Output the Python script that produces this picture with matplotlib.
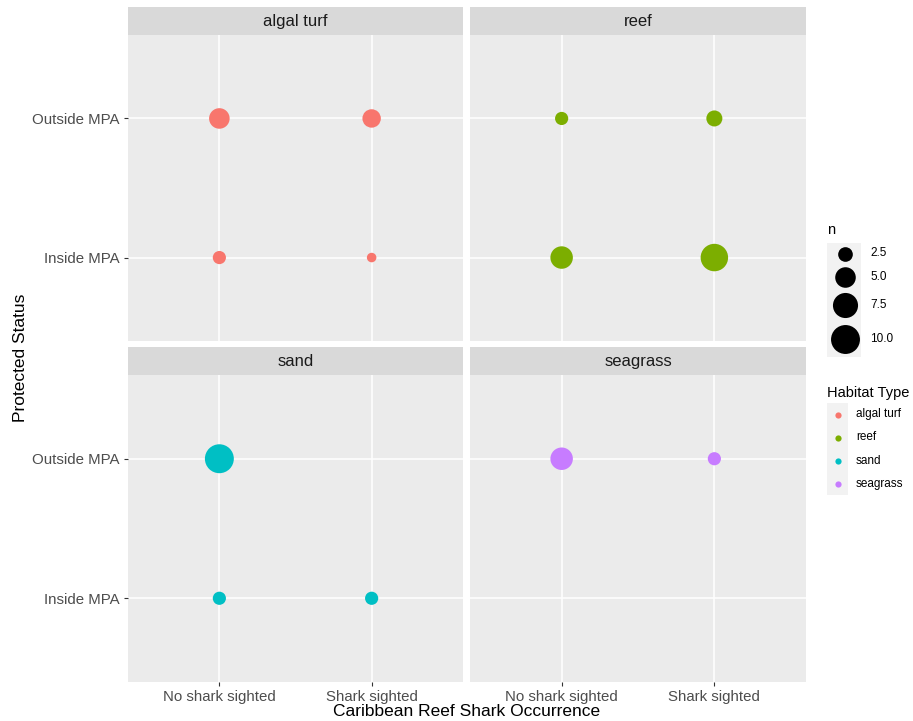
import matplotlib
matplotlib.use("Agg")
import matplotlib.pyplot as plt
from matplotlib.patches import Rectangle

plt.rcParams['font.family'] = ['Liberation Sans', 'DejaVu Sans']

habitats = ["algal turf", "reef", "sand", "seagrass"]
colors = ["#F8766D", "#7CAE00", "#00BFC4", "#C77CFF"]
occurrence = ["No shark sighted", "Shark sighted"]
status = ["Inside MPA", "Outside MPA"]

# counts per habitat: (occurrence, status, n)
algal_occ = ["No shark sighted", "Shark sighted", "No shark sighted", "Shark sighted"]
algal_stat = ["Outside MPA", "Outside MPA", "Inside MPA", "Inside MPA"]
algal_n = [5, 4, 2, 1]
reef_occ = ["No shark sighted", "Shark sighted", "No shark sighted", "Shark sighted"]
reef_stat = ["Outside MPA", "Outside MPA", "Inside MPA", "Inside MPA"]
reef_n = [2, 3, 6, 9]
sand_occ = ["No shark sighted", "No shark sighted", "Shark sighted"]
sand_stat = ["Outside MPA", "Inside MPA", "Inside MPA"]
sand_n = [10, 2, 2]
seagrass_occ = ["No shark sighted", "Shark sighted"]
seagrass_stat = ["Outside MPA", "Outside MPA"]
seagrass_n = [6, 2]

size_breaks = [2.5, 5.0, 7.5, 10.0]
size_labels = ["2.5", "5.0", "7.5", "10.0"]

data = {
    "algal turf": (algal_occ, algal_stat, algal_n),
    "reef": (reef_occ, reef_stat, reef_n),
    "sand": (sand_occ, sand_stat, sand_n),
    "seagrass": (seagrass_occ, seagrass_stat, seagrass_n),
}

def sz(n):
    return 4 + 43 * n

W, H = 913, 721
fig = plt.figure(figsize=(W / 100, H / 100), dpi=100)

def px_axes(x0, y0, x1, y1):
    return fig.add_axes([x0 / W, 1 - y1 / H, (x1 - x0) / W, (y1 - y0) / H])

cols = [(128, 463), (470, 806)]
rows = [((7, 35), (35, 341)), ((347, 375), (375, 682))]

for i, hab in enumerate(habitats):
    r, c = divmod(i, 2)
    (sy0, sy1), (py0, py1) = rows[r]
    x0, x1 = cols[c]
    ax = px_axes(x0, py0, x1, py1)
    ax.set_facecolor("#EBEBEB")
    ax.set_xlim(0.4, 2.6)
    ax.set_ylim(0.4, 2.6)
    ax.set_xticks([1, 2])
    ax.set_yticks([1, 2])
    ax.grid(True, color="white", linewidth=1.1)
    ax.set_axisbelow(True)
    for s in ax.spines.values():
        s.set_visible(False)
    occ, st, n = data[hab]
    xs = [occurrence.index(o) + 1 for o in occ]
    ys = [status.index(v) + 1 for v in st]
    ax.scatter(xs, ys, s=[sz(v) for v in n], color=colors[i], linewidths=0, zorder=3)
    ax.tick_params(length=3, color="#333333", width=0.8, labelsize=10.8, labelcolor="#4D4D4D", pad=3)
    if c == 0:
        ax.set_yticklabels(status)
    else:
        ax.set_yticklabels([])
        ax.tick_params(axis='y', length=0)
    if r == 1:
        ax.set_xticklabels(occurrence)
    else:
        ax.set_xticklabels([])
        ax.tick_params(axis='x', length=0)
    sax = px_axes(x0, sy0, x1, sy1)
    sax.set_facecolor("#D9D9D9")
    sax.set_xticks([]); sax.set_yticks([])
    for s in sax.spines.values():
        s.set_visible(False)
    sax.text(0.5, 0.47, hab, ha="center", va="center", fontsize=12, color="#1A1A1A",
             transform=sax.transAxes)

fig.text(467 / W, 1 - 711 / H, "Caribbean Reef Shark Occurrence", ha="center", va="center",
         fontsize=12.5, color="black")
fig.text(21 / W, 1 - 358 / H, "Protected Status", ha="center", va="center", rotation=90,
         fontsize=12.5, color="black")

# legend: size
lax = fig.add_axes([0, 0, 1, 1])
lax.set_xlim(0, W)
lax.set_ylim(H, 0)
lax.axis("off")
lax.text(827, 230, "n", fontsize=10.5, ha="left", va="center", color="black")
key_heights = [21, 26, 30, 37]
ytop = 243
for b, lab, kh in zip(size_breaks, size_labels, key_heights):
    yc = ytop + kh / 2
    lax.add_patch(Rectangle((827, ytop), 34, kh, facecolor="#F2F2F2", edgecolor="none"))
    lax.scatter([845], [yc], s=sz(b), color="black", linewidths=0, zorder=3)
    lax.text(870, yc, lab, fontsize=8.5, ha="left", va="center", color="black")
    ytop += kh

lax.text(827, 393, "Habitat Type", fontsize=10.5, ha="left", va="center", color="black")
key_y0 = 403
key_h = 23
for j, (hab, col) in enumerate(zip(habitats, colors)):
    yc = key_y0 + key_h * (j + 0.5)
    lax.add_patch(Rectangle((827, key_y0 + key_h * j), 21, key_h, facecolor="#F2F2F2", edgecolor="none"))
    lax.scatter([838], [yc], s=20, color=col, linewidths=0, zorder=3)
    lax.text(856, yc, hab, fontsize=8.5, ha="left", va="center", color="black")

fig.savefig("out.png", dpi=100)
